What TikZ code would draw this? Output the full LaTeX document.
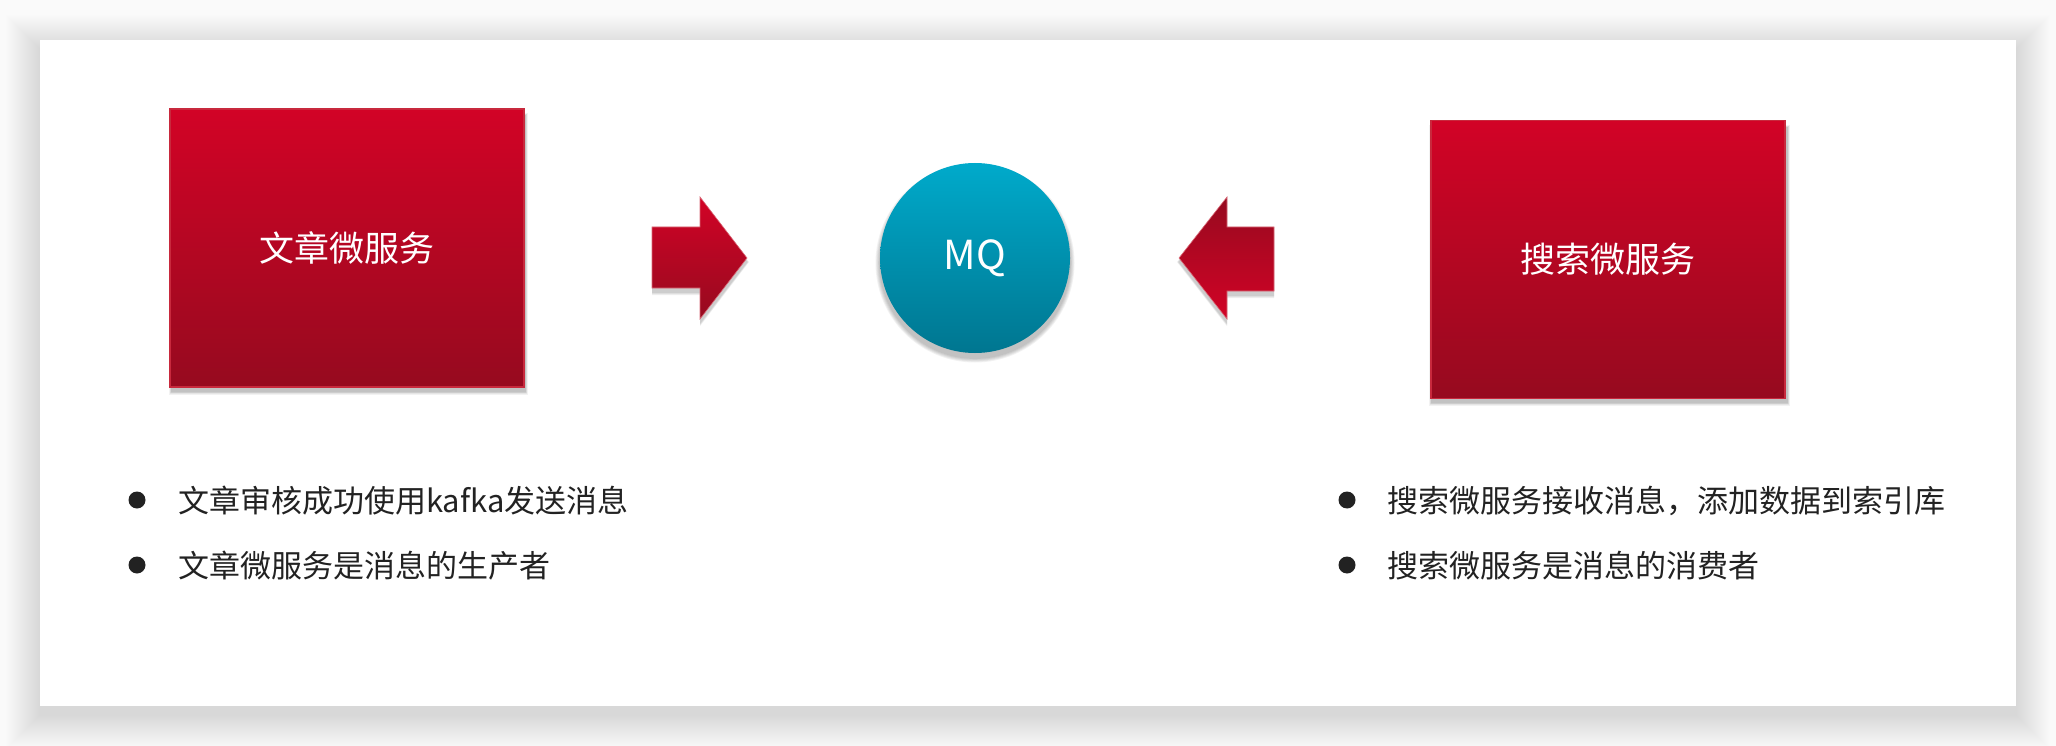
\documentclass[tikz,border=0pt]{standalone}
\usepackage{fontspec}
\setmainfont{Noto Sans CJK SC}
\definecolor{redtop}{HTML}{D20326}
\definecolor{redbot}{HTML}{960A1F}
\definecolor{redline}{HTML}{C8293D}
\definecolor{bluetop}{HTML}{00AACB}
\definecolor{bluebot}{HTML}{007690}
\definecolor{txt}{HTML}{222222}
\definecolor{bg}{HTML}{FAFAFA}
\tikzset{
  redbox/.style={draw=redline, line width=1.2pt, top color=redtop, bottom color=redbot,
    minimum width=354pt, minimum height=278pt, inner sep=0pt, text=white,
    font=\fontsize{35}{40}\selectfont},
  mqcircle/.style={circle, top color=bluetop, bottom color=bluebot, minimum size=190pt,
    inner sep=0pt, text=white, font=\fontsize{40}{46}\selectfont},
  bullettext/.style={anchor=west, inner sep=0pt, text=txt, font=\fontsize{31}{37}\selectfont},
  dot/.style={circle, fill=txt, minimum size=17pt, inner sep=0pt},
  arrowfill/.style={draw=redline!70, line width=0.6pt}
}
\begin{document}
\begin{tikzpicture}[x=1pt,y=-1pt]
\useasboundingbox (0,0) rectangle (2056,746);
\fill[bg] (0,0) rectangle (2056,746);
% card shadow
\foreach \i in {1,...,34}{
  \fill[black,opacity=0.0026] (40-\i,40-\i+9) rectangle (2016+\i,706+\i+9);
}
\fill[white] (40,40) rectangle (2016,706);
% box shadows
\foreach \i in {1,...,5}{
  \fill[black,opacity=0.05] (170-\i*0.6+2,109+7-\i*0.6) rectangle (524+\i*0.6+1,387+4+\i*0.8);
  \fill[black,opacity=0.05] (1430-\i*0.6+2,121+7-\i*0.6) rectangle (1786+\i*0.6+1,398+4+\i*0.8);
  \fill[black,opacity=0.05] (975,258+5) circle (95+\i*0.9);
}
% nodes
\node[redbox] (src) at (347,248) {文章微服务};
\node[redbox] (dst) at (1608,259.5) {搜索微服务};
\node[mqcircle] (mq) at (975,258) {MQ};
% block arrows
\coordinate (ra) at (652,258);
\coordinate (la) at (1274,258);
\foreach \i in {1,...,4}{
  \fill[black,opacity=0.05] (652,227+4+\i*0.7) -- (700,227+4+\i*0.7) -- (700,197+4) -- (747+\i*0.5,258+4) -- (700,319+4+\i*0.8) -- (700,288+4+\i*0.8) -- (652,288+4+\i*0.8) -- cycle;
  \fill[black,opacity=0.05] (1274,227+4+\i*0.7) -- (1227,227+4+\i*0.7) -- (1227,197+4) -- (1179-\i*0.5,258+4) -- (1227,319+4+\i*0.8) -- (1227,291+4+\i*0.8) -- (1274,291+4+\i*0.8) -- cycle;
}
\shade[arrowfill, top color=redtop, bottom color=redbot]
  (ra) |- (700,227) -- (700,197) -- (747,258) -- (700,319) -- (700,288) -| (ra);
\shade[arrowfill, top color=redbot, bottom color=redtop]
  (la) |- (1227,227) -- (1227,197) -- (1179,258) -- (1227,319) -- (1227,291) -| (la);
% bullets
\node[dot] (b1) at (137,500) {};
\node[dot] (b2) at (137,565) {};
\node[bullettext] (t1) at (178,501) {文章审核成功使用kafka发送消息};
\node[bullettext] (t2) at (178,566) {文章微服务是消息的生产者};
\node[dot] (b3) at (1347,500) {};
\node[dot] (b4) at (1347,565) {};
\node[bullettext] (t3) at (1387,501) {搜索微服务接收消息，添加数据到索引库};
\node[bullettext] (t4) at (1387,566) {搜索微服务是消息的消费者};
\end{tikzpicture}
\end{document}
